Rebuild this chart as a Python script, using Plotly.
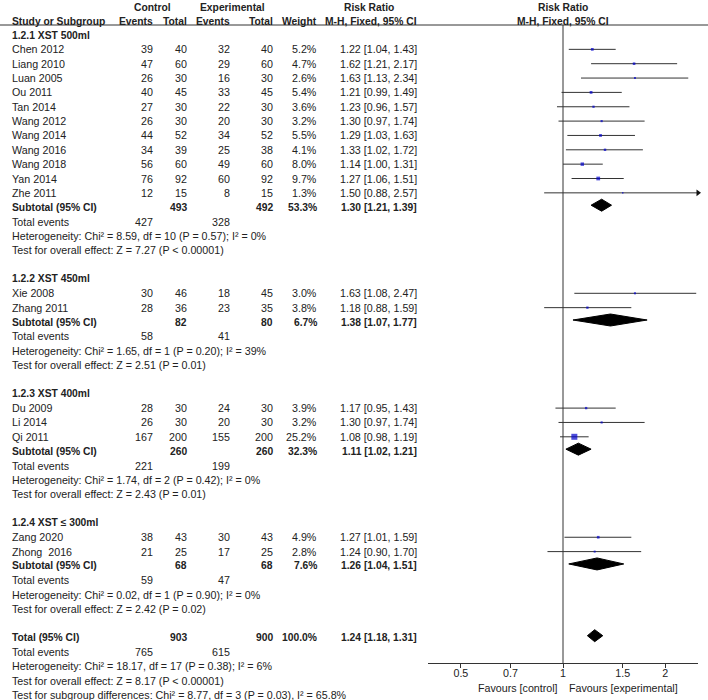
import math
import plotly.graph_objects as go

# ---------------- data ----------------
group_names = ["1.2.1 XST 500ml", "1.2.2 XST 450ml", "1.2.3 XST 400ml", "1.2.4 XST ≤ 300ml"]
studies = ["Chen 2012", "Liang 2010", "Luan 2005", "Ou 2011", "Tan 2014", "Wang 2012",
           "Wang 2014", "Wang 2016", "Wang 2018", "Yan 2014", "Zhe 2011",
           "Xie 2008", "Zhang 2011",
           "Du 2009", "Li 2014", "Qi 2011",
           "Zang 2020", "Zhong  2016"]
study_group = [0, 0, 0, 0, 0, 0, 0, 0, 0, 0, 0, 1, 1, 2, 2, 2, 3, 3]
ctrl_events = [39, 47, 26, 40, 27, 26, 44, 34, 56, 76, 12, 30, 28, 28, 26, 167, 38, 21]
ctrl_total = [40, 60, 30, 45, 30, 30, 52, 39, 60, 92, 15, 46, 36, 30, 30, 200, 43, 25]
exp_events = [32, 29, 16, 33, 22, 20, 34, 25, 49, 60, 8, 18, 23, 24, 20, 155, 30, 17]
exp_total = [40, 60, 30, 45, 30, 30, 52, 38, 60, 92, 15, 45, 35, 30, 30, 200, 43, 25]
weight = [5.2, 4.7, 2.6, 5.4, 3.6, 3.2, 5.5, 4.1, 8.0, 9.7, 1.3, 3.0, 3.8, 3.9, 3.2, 25.2, 4.9, 2.8]
rr = [1.22, 1.62, 1.63, 1.21, 1.23, 1.30, 1.29, 1.33, 1.14, 1.27, 1.50, 1.63, 1.18, 1.17, 1.30, 1.08, 1.27, 1.24]
rr_lo = [1.04, 1.21, 1.13, 0.99, 0.96, 0.97, 1.03, 1.02, 1.00, 1.06, 0.88, 1.08, 0.88, 0.95, 0.97, 0.98, 1.01, 0.90]
rr_hi = [1.43, 2.17, 2.34, 1.49, 1.57, 1.74, 1.63, 1.72, 1.31, 1.51, 2.57, 2.47, 1.59, 1.43, 1.74, 1.19, 1.59, 1.70]

sub_ctrl_total = [493, 82, 260, 68]
sub_exp_total = [492, 80, 260, 68]
sub_weight = [53.3, 6.7, 32.3, 7.6]
sub_rr = [1.30, 1.38, 1.11, 1.26]
sub_lo = [1.21, 1.07, 1.02, 1.04]
sub_hi = [1.39, 1.77, 1.21, 1.51]
sub_ctrl_events = [427, 58, 221, 59]
sub_exp_events = [328, 41, 199, 47]
sub_het = ["Heterogeneity: Chi² = 8.59, df = 10 (P = 0.57); I² = 0%",
           "Heterogeneity: Chi² = 1.65, df = 1 (P = 0.20); I² = 39%",
           "Heterogeneity: Chi² = 1.74, df = 2 (P = 0.42); I² = 0%",
           "Heterogeneity: Chi² = 0.02, df = 1 (P = 0.90); I² = 0%"]
sub_test = ["Test for overall effect: Z = 7.27 (P < 0.00001)",
            "Test for overall effect: Z = 2.51 (P = 0.01)",
            "Test for overall effect: Z = 2.43 (P = 0.01)",
            "Test for overall effect: Z = 2.42 (P = 0.02)"]

total_ctrl_total = 903
total_exp_total = 900
total_weight = 100.0
total_rr = 1.24
total_lo = 1.18
total_hi = 1.31
total_ctrl_events = 765
total_exp_events = 615
total_het = "Heterogeneity: Chi² = 18.17, df = 17 (P = 0.38); I² = 6%"
total_test = "Test for overall effect: Z = 8.17 (P < 0.00001)"
subgroup_test = "Test for subgroup differences: Chi² = 8.77, df = 3 (P = 0.03), I² = 65.8%"

tick_vals = [0.5, 0.7, 1, 1.5, 2]
tick_text = ["0.5", "0.7", "1", "1.5", "2"]
axis_min, axis_max = 0.4, 2.5

# ---------------- layout constants ----------------
W, H = 708, 700
Y0, DY = 35.0, 14.35
AXIS_Y = 663
FONT = "Liberation Sans, Arial, sans-serif"
TXT = "#222222"
FS = 10.7
FSB = 10.3
X_NAME, X_CE, X_CT, X_EE, X_ET, X_W, X_RR = 10, 155, 189, 232, 275, 319, 419

fig = go.Figure()
ann = []


def text(x, y, s, anchor="right", bold=False):
    ann.append(dict(x=x, y=y, xref="x", yref="y", text=(f"<b>{s}</b>" if bold else s),
                    showarrow=False, xanchor=anchor, yanchor="middle",
                    font=dict(family=FONT, size=(FSB if bold else FS), color=TXT)))


def rowy(r):
    return Y0 + DY * r


def rrtxt(a, b, c):
    return f"{a:.2f} [{b:.2f}, {c:.2f}]"


# headers
text(152, 7, "Control", "center", True)
text(232, 7, "Experimental", "center", True)
text(369, 7, "Risk Ratio", "center", True)
text(563, 7, "Risk Ratio", "center", True)
text(X_NAME, 21, "Study or Subgroup", "left", True)
text(X_CE, 21, "Events", "right", True)
text(X_CT, 21, "Total", "right", True)
text(X_EE, 21, "Events", "right", True)
text(X_ET, 21, "Total", "right", True)
text(X_W, 21, "Weight", "right", True)
text(X_RR, 21, "M-H, Fixed, 95% CI", "right", True)
text(563, 21, "M-H, Fixed, 95% CI", "center", True)

study_y = []
diam_x, diam_y = [], []
r = 0
for g, gname in enumerate(group_names):
    text(X_NAME, rowy(r), gname, "left", True)
    r += 1
    for i, s in enumerate(studies):
        if study_group[i] != g:
            continue
        y = rowy(r)
        study_y.append(y)
        text(X_NAME, y, s, "left")
        text(X_CE, y, str(ctrl_events[i]))
        text(X_CT, y, str(ctrl_total[i]))
        text(X_EE, y, str(exp_events[i]))
        text(X_ET, y, str(exp_total[i]))
        text(X_W, y, f"{weight[i]:.1f}%")
        text(X_RR, y, rrtxt(rr[i], rr_lo[i], rr_hi[i]))
        r += 1
    y = rowy(r)
    text(X_NAME, y, "Subtotal (95% CI)", "left", True)
    text(X_CT, y, str(sub_ctrl_total[g]), bold=True)
    text(X_ET, y, str(sub_exp_total[g]), bold=True)
    text(X_W, y, f"{sub_weight[g]:.1f}%", bold=True)
    text(X_RR, y, rrtxt(sub_rr[g], sub_lo[g], sub_hi[g]), bold=True)
    diam_x.append([sub_lo[g], sub_rr[g], sub_hi[g], sub_rr[g], sub_lo[g]])
    diam_y.append(y - 2)
    r += 1
    text(X_NAME, rowy(r), "Total events", "left")
    text(X_CE, rowy(r), str(sub_ctrl_events[g]))
    text(X_EE, rowy(r), str(sub_exp_events[g]))
    r += 1
    text(X_NAME, rowy(r), sub_het[g], "left")
    r += 1
    text(X_NAME, rowy(r), sub_test[g], "left")
    r += 2

y = rowy(r)
text(X_NAME, y, "Total (95% CI)", "left", True)
text(X_CT, y, str(total_ctrl_total), bold=True)
text(X_ET, y, str(total_exp_total), bold=True)
text(X_W, y, f"{total_weight:.1f}%", bold=True)
text(X_RR, y, rrtxt(total_rr, total_lo, total_hi), bold=True)
diam_x.append([total_lo, total_rr, total_hi, total_rr, total_lo])
diam_y.append(y - 2)
r += 1
text(X_NAME, rowy(r), "Total events", "left")
text(X_CE, rowy(r), str(total_ctrl_events))
text(X_EE, rowy(r), str(total_exp_events))
r += 1
text(X_NAME, rowy(r), total_het, "left")
r += 1
text(X_NAME, rowy(r), total_test, "left")
r += 1
text(X_NAME, rowy(r), subgroup_test, "left")

# favours labels
ann.append(dict(x=math.log10(1), y=688, xref="x2", yref="y", text="Favours [control]",
                showarrow=False, xanchor="right", yanchor="middle", xshift=-3,
                font=dict(family=FONT, size=FS, color=TXT)))
ann.append(dict(x=math.log10(1), y=688, xref="x2", yref="y", text="Favours [experimental]",
                showarrow=False, xanchor="left", yanchor="middle", xshift=4,
                font=dict(family=FONT, size=FS, color=TXT)))

# dummy trace for table axes
fig.add_trace(go.Scatter(x=[0, W], y=[0, H], mode="markers", marker=dict(opacity=0),
                         xaxis="x", yaxis="y", hoverinfo="skip", showlegend=False))

# CI lines
lx, ly = [], []
for i in range(len(studies)):
    lx += [rr_lo[i], rr_hi[i], None]
    ly += [study_y[i], study_y[i], None]
fig.add_trace(go.Scatter(x=lx, y=ly, mode="lines", line=dict(color="#333333", width=1),
                         xaxis="x2", yaxis="y2", hoverinfo="skip", showlegend=False))

# arrows for CIs exceeding the axis
ax_, ay_ = [], []
for i in range(len(studies)):
    if rr_hi[i] > axis_max:
        ax_.append(axis_max)
        ay_.append(study_y[i])
fig.add_trace(go.Scatter(x=ax_, y=ay_, mode="markers",
                         marker=dict(symbol="triangle-right", size=6, color="#111111"),
                         xaxis="x2", yaxis="y2", cliponaxis=False, hoverinfo="skip", showlegend=False))

# squares
fig.add_trace(go.Scatter(x=rr, y=study_y, mode="markers",
                         marker=dict(symbol="square", color="#0000cc",
                                     size=[max(1.5, 12 * math.sqrt(w / 100)) for w in weight],
                                     line=dict(width=0)),
                         xaxis="x2", yaxis="y2", hoverinfo="skip", showlegend=False))

# diamonds
for dx, dy in zip(diam_x, diam_y):
    fig.add_trace(go.Scatter(x=dx, y=[dy, dy - 6, dy, dy + 6, dy], mode="lines",
                             fill="toself", fillcolor="#000000", line=dict(color="#000000", width=1),
                             xaxis="x2", yaxis="y2", hoverinfo="skip", showlegend=False))

shapes = [
    dict(type="line", xref="x", yref="y", x0=0, x1=W, y0=25, y1=25,
         line=dict(color="#333333", width=1)),
    dict(type="line", xref="x2", yref="y2", x0=1, x1=1, y0=25, y1=AXIS_Y,
         line=dict(color="#333333", width=1)),
]

fig.update_layout(
    width=W, height=H, margin=dict(l=0, r=0, t=0, b=0),
    paper_bgcolor="white", plot_bgcolor="rgba(0,0,0,0)",
    showlegend=False,
    xaxis=dict(range=[0, W], domain=[0, 1], visible=False, fixedrange=True),
    yaxis=dict(range=[H, 0], domain=[0, 1], visible=False, fixedrange=True),
    xaxis2=dict(type="log", range=[math.log10(axis_min), math.log10(axis_max)],
                domain=[428 / W, 698 / W], anchor="y2",
                showline=True, linecolor="#333333", linewidth=1,
                ticks="outside", ticklen=4, tickcolor="#333333",
                ticklabelstandoff=-4,
                tickvals=tick_vals, ticktext=tick_text,
                tickfont=dict(family=FONT, size=FS, color=TXT),
                showgrid=False, zeroline=False),
    yaxis2=dict(range=[AXIS_Y, 0], domain=[(H - AXIS_Y) / H, 1], anchor="x2",
                visible=False),
    annotations=ann,
    shapes=shapes,
)

fig.write_html("out.html", config={"displayModeBar": False},
               post_script="document.body.style.margin='0';document.body.style.overflow='hidden';")
